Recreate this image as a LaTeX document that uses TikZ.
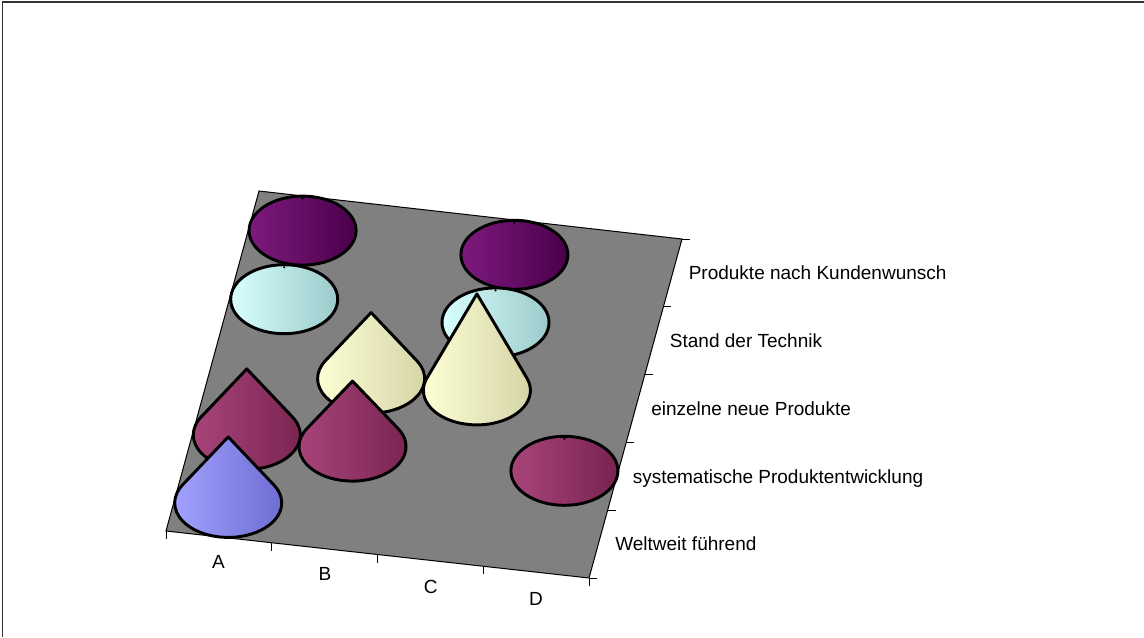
\documentclass[tikz,border=0pt]{standalone}
\usepackage{fontspec}
\setmainfont{Liberation Sans}
\usetikzlibrary{calc}
\definecolor{floorgray}{HTML}{808080}
\definecolor{blueL}{HTML}{A2A2FF}
\definecolor{blueD}{HTML}{6A6AD0}
\definecolor{magL}{HTML}{A8457A}
\definecolor{magD}{HTML}{782350}
\definecolor{yelL}{HTML}{FFFFD6}
\definecolor{yelD}{HTML}{D2D2A4}
\definecolor{cyaL}{HTML}{D8FFFF}
\definecolor{cyaD}{HTML}{9CCACA}
\definecolor{purL}{HTML}{7E1A7E}
\definecolor{purD}{HTML}{4A004A}
\tikzset{
  conebody/.style={draw=black, line width=2.2pt, line join=round},
  lab/.style={font=\fontsize{14.25pt}{16pt}\selectfont, inner sep=0pt},
  tick/.style={draw=black, line width=0.75pt},
}
% tall cone: cx, cy, height, colour prefix
\newcommand\tallcone[4]{%
  \pgfmathsetmacro\tcs{asin(34.5/#3)}%
  \pgfmathsetmacro\tcx{53.5*cos(\tcs)}%
  \pgfmathsetmacro\tcy{34.5*sin(\tcs)}%
  \draw[conebody, left color=#4L, right color=#4D]
    (#1,#2-#3) -- (#1+\tcx,#2-\tcy)
    arc[start angle=-\tcs, end angle=180+\tcs, x radius=53.5, y radius=34.5] -- cycle;
}
% flat cone: cx, cy, colour prefix
\newcommand\flatcone[3]{%
  \draw[conebody, left color=#3L, right color=#3D]
    (#1,#2) ellipse[x radius=53.5, y radius=34.5];
  \fill[black] (#1,#2-32) circle[radius=1.2];
}
\begin{document}
\begin{tikzpicture}[x=0.75pt, y=-0.75pt]
\useasboundingbox (0,0) rectangle (1144,637);
% outer frame (top and left)
\draw[line width=1.2pt, black!80] (2.3,637) -- (2.3,2) -- (1144,2);
% floor
\coordinate (bl) at (166,531);
\coordinate (br) at (589,578);
\coordinate (tr) at (682,239);
\coordinate (tl) at (259,191);
\fill[floorgray] (bl) -- (br) -- (tr) -- (tl) -- cycle;
\draw[line width=0.75pt] (bl) -- (br) -- (tr) -- (tl) -- cycle;
% ticks on the bottom edge
\foreach \u in {0,0.25,0.5,0.75,1}
  \draw[tick] ($(bl)!\u!(br)$) -- ++(0,8);
% ticks on the right edge
\foreach \v in {0,0.2,0.4,0.6,0.8,1}
  \draw[tick] ($(br)!\v!(tr)$) -- ++(8,0);
% cones, back to front
\flatcone{302.6}{230.6}{pur}
\flatcone{514.4}{254.8}{pur}
\flatcone{284.2}{299.2}{cya}
\flatcone{495.5}{322.4}{cya}
\tallcone{371.1}{378.6}{66}{yel}
\tallcone{476.9}{390.4}{96.5}{yel}
\tallcone{246.8}{434.9}{66}{mag}
\tallcone{352.5}{446.6}{65.5}{mag}
\flatcone{564.4}{470.8}{mag}
\tallcone{228.2}{502.9}{66}{blue}
% category labels
\node[lab, anchor=base] (ca) at (218.5,568.5) {A};
\node[lab, anchor=base] (cb) at (325,580.8) {B};
\node[lab, anchor=base] (cc) at (430.7,593.5) {C};
\node[lab, anchor=base] (cd) at (536,605.1) {D};
% row labels
\node[lab, anchor=base west] (r5) at (688.5,279.7) {Produkte nach Kundenwunsch};
\node[lab, anchor=base west] (r4) at (669.7,347.5) {Stand der Technik};
\node[lab, anchor=base west] (r3) at (651,415.3) {einzelne neue Produkte};
\node[lab, anchor=base west] (r2) at (632.5,483.1) {systematische Produktentwicklung};
\node[lab, anchor=base west] (r1) at (615,550.9) {Weltweit führend};
\end{tikzpicture}
\end{document}
